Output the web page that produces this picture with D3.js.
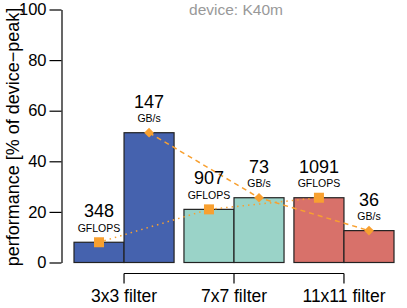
<!DOCTYPE html>
<html>
<head>
  <meta charset="utf-8">
  <script src="https://d3js.org/d3.v7.min.js"></script>
  <style>
    body { margin: 0; background: #fff; }
    text { font-family: "Liberation Sans", Arial, sans-serif; }
  </style>
</head>
<body>
  <svg id="chart" width="407" height="308"></svg>
  <script>
    // data
    var filters = ["3x3 filter", "7x7 filter", "11x11 filter"];
    var metrics = ["GFLOPS", "GB/s"];
    var percent = [[8.0, 51.3], [21.0, 25.6], [25.6, 12.6]];
    var absValues = [["348", "147"], ["907", "73"], ["1091", "36"]];
    var colors = ["#4562ae", "#9ad3c8", "#d8716a"];
    var yTicks = [0, 20, 40, 60, 80, 100];

    var svg = d3.select("#chart");
    var orange = "#f8a030";

    var y = d3.scaleLinear().domain([0, 100]).range([262.5, 9.5]);
    var xGroup = d3.scaleBand().domain(filters).range([74, 394]).paddingInner(0.09).paddingOuter(0);
    var xSub = d3.scaleBand().domain(metrics).range([0, xGroup.bandwidth()]);

    // y axis
    var yAxis = d3.axisLeft(y).tickValues(yTicks).tickSize(12).tickSizeOuter(0).tickPadding(3);
    var ga = svg.append("g").attr("transform", "translate(61.5,0)").call(yAxis);
    ga.select(".domain").attr("stroke", "#000").attr("stroke-width", 1.2);
    ga.selectAll(".tick line").attr("stroke-width", 1.2);
    ga.selectAll(".tick text").attr("font-size", 16.5).attr("fill", "#000")
      .attr("font-family", "Liberation Sans, Arial, sans-serif");

    svg.append("text")
      .attr("transform", "translate(19," + (y(50) + 1) + ") rotate(-90)")
      .attr("text-anchor", "middle")
      .attr("font-size", 18)
      .text("performance [% of device\u2212peak]");

    svg.append("text")
      .attr("x", 236).attr("y", 15)
      .attr("text-anchor", "middle")
      .attr("font-size", 15.5)
      .attr("fill", "#999")
      .text("device: K40m");

    // flatten data
    var rows = [];
    filters.forEach(function (f, i) {
      metrics.forEach(function (m, j) {
        rows.push({ f: f, m: m, i: i, v: percent[i][j], label: absValues[i][j] });
      });
    });
    function cx(d) { return xGroup(d.f) + xSub(d.m) + xSub.bandwidth() / 2; }

    svg.selectAll("rect.bar").data(rows).enter().append("rect")
      .attr("class", "bar")
      .attr("x", function (d) { return xGroup(d.f) + xSub(d.m); })
      .attr("y", function (d) { return y(d.v); })
      .attr("width", xSub.bandwidth())
      .attr("height", function (d) { return y(0) - y(d.v); })
      .attr("fill", function (d) { return colors[d.i]; })
      .attr("stroke", "#222").attr("stroke-width", 1.2);

    // connecting lines
    var line = d3.line().x(cx).y(function (d) { return y(d.v); });
    var flops = rows.filter(function (d) { return d.m === "GFLOPS"; });
    var bw = rows.filter(function (d) { return d.m === "GB/s"; });
    svg.append("path").datum(flops).attr("d", line)
      .attr("fill", "none").attr("stroke", orange).attr("stroke-width", 1.5)
      .attr("stroke-dasharray", "1.5,4");
    svg.append("path").datum(bw).attr("d", line)
      .attr("fill", "none").attr("stroke", orange).attr("stroke-width", 1.5)
      .attr("stroke-dasharray", "5,4");

    svg.selectAll("rect.sq").data(flops).enter().append("rect")
      .attr("class", "sq")
      .attr("x", function (d) { return cx(d) - 5; })
      .attr("y", function (d) { return y(d.v) - 5; })
      .attr("width", 10).attr("height", 10)
      .attr("fill", orange);
    svg.selectAll("path.dm").data(bw).enter().append("path")
      .attr("class", "dm")
      .attr("d", d3.symbol().type(d3.symbolDiamond2).size(60))
      .attr("transform", function (d) { return "translate(" + cx(d) + "," + y(d.v) + ")"; })
      .attr("fill", orange);

    // value labels
    svg.selectAll("text.num").data(rows).enter().append("text")
      .attr("class", "num")
      .attr("x", cx)
      .attr("y", function (d) { return y(d.v) - 25; })
      .attr("text-anchor", "middle").attr("font-size", 18)
      .text(function (d) { return d.label; });
    svg.selectAll("text.unit").data(rows).enter().append("text")
      .attr("class", "unit")
      .attr("x", cx)
      .attr("y", function (d) { return y(d.v) - 10.5; })
      .attr("text-anchor", "middle").attr("font-size", 10.5)
      .text(function (d) { return d.m; });

    // bottom bracket
    var bx = filters.map(function (f) { return xGroup(f) + xGroup.bandwidth() / 2; });
    var brY = 273.5;
    svg.append("line").attr("x1", bx[0]).attr("x2", bx[bx.length - 1])
      .attr("y1", brY).attr("y2", brY).attr("stroke", "#000").attr("stroke-width", 1.2);
    svg.selectAll("line.bt").data(bx).enter().append("line")
      .attr("x1", function (d) { return d; }).attr("x2", function (d) { return d; })
      .attr("y1", brY).attr("y2", brY + 10).attr("stroke", "#000").attr("stroke-width", 1.2);
    svg.selectAll("text.grp").data(filters).enter().append("text")
      .attr("x", function (d, i) { return bx[i]; })
      .attr("y", 302)
      .attr("text-anchor", "middle").attr("font-size", 17.5)
      .text(function (d) { return d; });
  </script>
</body>
</html>
